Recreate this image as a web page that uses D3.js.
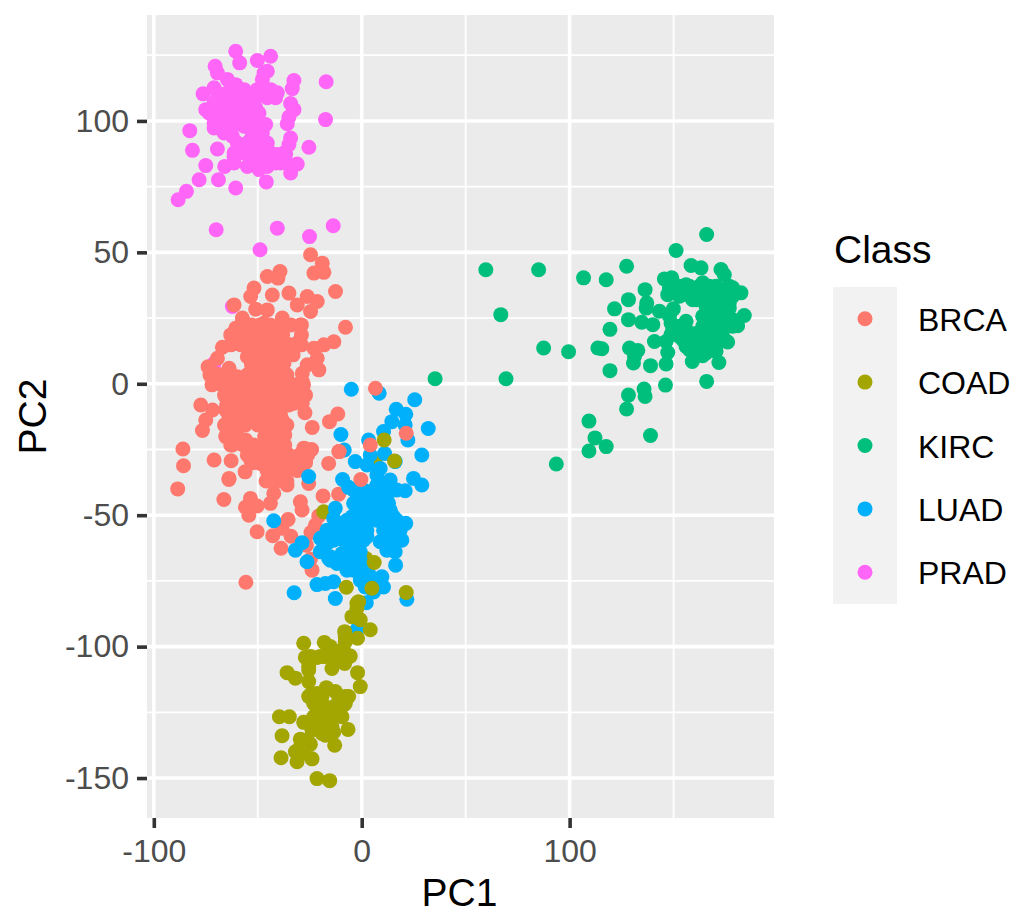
<!DOCTYPE html>
<html>
<head>
<meta charset="utf-8">
<script src="https://cdn.jsdelivr.net/npm/d3@7/dist/d3.min.js"></script>
<style>
  html, body { margin: 0; background: #fff; }
  text { font-family: "Liberation Sans", Arial, sans-serif; }
</style>
</head>
<body>
<div id="chart-area"></div>
<script>
var classes = ['BRCA', 'COAD', 'KIRC', 'LUAD', 'PRAD']
var classColors = ['#FF786E', '#A3A500', '#00BF7D', '#00B0FA', '#FF66F7']
var xMajorTicks = [-100, 0, 100]
var xMinorTicks = [-50, 50, 150]
var yMajorTicks = [-150, -100, -50, 0, 50, 100]
var yMinorTicks = [-125, -75, -25, 25, 75, 125]

var prad = [
  [-60.6, 126.5], [-58.7, 122.1], [-50.2, 123], [-43.8, 124.6], [-70.5, 120.8], [-69.4, 118.3], [-47, 118.3],
  [-47.8, 115.8], [-32.6, 115.4], [-33.4, 112.3], [-17.1, 114.9], [-17.4, 100.5], [-64.6, 115.8], [-60.6, 113.8],
  [-71, 112.6], [-76.3, 110.3], [-75, 104.3], [-67.8, 109.4], [-61.4, 110.7], [-53.4, 109.4], [-43.8, 111.9],
  [-41.4, 108.8], [-45.4, 108.8], [-34.2, 106.6], [-32.6, 104.3], [-35, 101.5], [-35.8, 98.9], [-34.2, 93.5],
  [-35, 91], [-25.4, 90], [-82.7, 96.3], [-81.4, 88.8], [-69.4, 89.3], [-71, 97.3], [-67, 101.8], [-63, 103],
  [-56.6, 104.3], [-51, 105], [-68.6, 106.2], [-63, 96.7], [-59.8, 91.6], [-61.4, 86.5], [-65.9, 82.7], [-75, 83],
  [-78.2, 77.6], [-68.9, 77.6], [-84.3, 73.2], [-88.3, 70], [-60.6, 74.5], [-45.9, 76.8], [-55, 82.7], [-49.4, 81.5],
  [-45.4, 82.7], [-41.4, 84], [-34.2, 80.2], [-31, 83.6], [-36.6, 87.2], [-45.4, 91.6], [-46.2, 98.6], [-53.4, 96.7],
  [-56.6, 89.7], [-50.2, 87.8], [-48.6, 94.2], [-70, 58.6], [-40.6, 59.2], [-25.1, 56], [-13.7, 60.1], [-48.9, 51],
  [-62.2, 29.4], [-71, 7.8],
  [-66.2, 109.4], [-61.4, 106.9], [-56.6, 109.4], [-51.8, 107.5], [-55, 102.4], [-47, 112.6], [-50.2, 111.9],
  [-71, 103], [-66.2, 98.6], [-69.4, 99.2], [-61.4, 99.2], [-62.2, 94.2], [-56.6, 98], [-51.8, 101.8], [-65.4, 103],
  [-53.4, 92.9], [-49.4, 91], [-43.8, 87.8], [-46.2, 89.1], [-53.4, 87.2], [-59, 87.8], [-50.2, 84.6], [-47, 85.9],
  [-40.6, 87.2], [-35.8, 84], [-39.8, 85.9], [-56.6, 111.9], [-45.4, 118.9],
  [-69.4, 110.7], [-64.6, 110.7], [-59.8, 110.7], [-55, 110.7], [-50.2, 110.7], [-45.4, 110.7], [-40.6, 110.7],
  [-71, 106.9], [-66.2, 106.9], [-56.6, 106.9], [-51.8, 106.9],
  [-73.4, 103], [-68.6, 103], [-59, 103], [-54.2, 103], [-49.4, 103],
  [-71, 99.2], [-66.2, 99.2], [-51.8, 99.2], [-52.6, 95.4], [-47.8, 95.4], [-66.2, 95.4],
  [-55, 91.6], [-50.2, 91.6], [-61.4, 87.8], [-56.6, 87.8], [-45.4, 87.8], [-37.4, 87.8],
  [-61.4, 84], [-53.4, 84], [-48.6, 84], [-43.8, 84], [-39, 84]
]

var brca = [
  [-24.6, 49.1], [-19, 45.9], [-23, 42.1], [-18.2, 42.4], [-39.3, 42.7], [-45.4, 40.8], [-40.3, 40.2], [-51.8, 36.4],
  [-53.4, 33.2], [-43, 33.8], [-35, 34.5], [-26.2, 33.2], [-21.4, 31.3], [-12.6, 35.1], [-61.4, 30], [-51, 28.4],
  [-45.4, 28.1], [-31, 30], [-24.6, 27.5], [-7.8, 21.5], [-57.4, 25], [-60.6, 21.1], [-53.4, 20.5], [-38.2, 25],
  [-29.4, 22.4], [-47, 23], [-13.4, 16], [-18.2, 14.8], [-23, 13.5], [-30.2, 16], [-67, 13.9], [-59.8, 15.4],
  [-48.6, 16.7], [-40.6, 15.4], [-21.4, 9.7], [-20.6, 5.3], [-26.2, 7.2], [-69.4, 9.7], [-73.9, 6.5], [-71, 4],
  [-63.8, 5.9], [-55, 10.3], [-47, 10.3], [-37.4, 7.8], [-70.2, 0.8], [-59.8, 2.7], [-50.2, 4], [-40.6, 2.7],
  [-28.6, 4], [-28.6, 0.8], [-65.4, -4.9], [-56.6, -2.4], [-47, -2.4], [-37.4, -1.1], [-32.6, -7.4], [-28.6, -7.4],
  [-27.3, -11], [-77.4, -8.1], [-71.8, -10], [-75, -13.8], [-76.6, -17.8], [-65.4, -10], [-56.6, -8.7], [-47, -8.7],
  [-40.6, -7.4], [-65.4, -16.3], [-65.4, -20.1], [-62.2, -23.3], [-59, -14.4], [-51.8, -13.8], [-45.4, -13.8],
  [-38.2, -13.8], [-37.9, -18.2], [-38.2, -22.7], [-46.7, -20.1], [-55.8, -21.4], [-50.2, -25.2], [-43.8, -26.5],
  [-53.4, -29], [-45.4, -30.3], [-37.4, -29], [-27.5, -24.6], [-24.1, -25], [-31, -29], [-34.2, -31.6],
  [-23.8, -16.6], [-15.5, -14.4], [-11.5, -11.5], [-86, -24.8], [-85.7, -31.2], [-71, -29], [-62.8, -29.3],
  [-56.1, -33.5], [-63.8, -36], [-11, -25.8], [-15.9, -30.3], [-27.9, -24.5], [-24.7, -25.2], [-63.9, -36.4],
  [-66.3, -44], [-43.9, -36.6], [-35.9, -38.5], [-30.3, -32.8], [-32.7, -29], [-48.7, -30.3], [-40.7, -29],
  [-25.5, -37.9], [-42.3, -41.7], [-43.9, -45.5], [-53.5, -43.6], [-55.9, -47], [-50.3, -46.5], [-54.3, -50],
  [-29.5, -44.9], [-28.7, -48], [-18.6, -42.7], [-11.1, -42], [-20.7, -50.3], [-22.3, -53.8], [-24.4, -56.6],
  [-35.4, -51.6], [-38.3, -55], [-42.8, -57.8], [-34, -58], [-50.3, -56.3], [-38.8, -62.6], [-26.6, -61.4],
  [-24.7, -66.8], [-23.9, -70.9], [-55.7, -75.5], [-8.7, -53.1], [-88.5, -40],
  [-58, 22.4], [-53, 22.4], [-49, 22.4], [-44, 22.4], [-39, 22.4], [-34, 22.4], [-29, 22.4],
  [-63, 18.6], [-56, 18.6], [-50, 18.6], [-44, 18.6], [-38, 18.6], [-29, 18.6],
  [-63, 14.8], [-58, 14.8], [-53, 14.8], [-48, 14.8], [-44, 14.8], [-39, 14.8], [-34, 14.8], [-29, 14.8],
  [-53, 11], [-48, 11], [-43, 11], [-38, 11], [-33, 11],
  [-53, 7.2], [-48, 7.2], [-43, 7.2], [-38, 7.2],
  [-73, 3.4], [-68, 3.4], [-63, 3.4], [-55, 3.4], [-50, 3.4], [-45, 3.4], [-40, 3.4], [-36, 3.4],
  [-72, -0.4], [-67, -0.4], [-62, -0.4], [-57, -0.4], [-52, -0.4], [-47, -0.4], [-42, -0.4], [-37, -0.4], [-32, -0.4], [-28, -0.4],
  [-66, -4.3], [-61, -4.3], [-56, -4.3], [-51, -4.3], [-46, -4.3], [-41, -4.3], [-36, -4.3], [-31, -4.3], [-27, -4.3],
  [-65, -8.1], [-60, -8.1], [-55, -8.1], [-50, -8.1], [-45, -8.1], [-40, -8.1], [-35, -8.1],
  [-64, -11.9], [-59, -11.9], [-54, -11.9], [-49, -11.9], [-44, -11.9], [-39, -11.9],
  [-66, -15.7], [-61, -15.7], [-56, -15.7], [-50, -15.7], [-45, -15.7], [-40, -15.7], [-36, -15.7],
  [-65, -19.5], [-60, -19.5], [-42, -19.5], [-37, -19.5],
  [-63, -23.3], [-57, -23.3], [-52, -23.3], [-47, -23.3], [-42, -23.3], [-37, -23.3],
  [-55, -27.1], [-50, -27.1], [-45, -27.1], [-40, -27.1], [-35, -27.1], [-30, -27.1], [-26, -27.1],
  [-52, -30], [-47, -30], [-42, -30], [-37, -30], [-32, -30], [-27, -30],
  [-45.5, -33], [-40.7, -33], [-35.9, -33], [-31.1, -33], [-46, -37], [-41, -37], [-36, -37]
]

var brcaTop = [
  [6.6, -1.7], [21.4, -18.8], [4.1, -23.3], [-10.8, -25.8], [-0.4, -36.4]
]

var coadUnder = [
  [6.5, -29.6], [-18.3, -48.7], [2, -66.5], [-2.3, -83.6]
]

var luad = [
  [-5, -2.1], [8.4, -3.6], [25.5, -6.1], [16.6, -9.7], [21.2, -11.6], [14.5, -14.4], [20.9, -15.7], [32, -17],
  [10.5, -18.2], [22.2, -21.4], [3.3, -21.4], [-10, -19.3], [-8.4, -25.2], [28.9, -27.1], [-3.1, -29.6], [4.1, -27.1],
  [11, -26.5], [16.1, -29.6], [8.9, -32.2], [2.5, -30.9], [-25.5, -35.3], [-9.2, -36.4], [24.9, -36], [28.9, -38.5],
  [20.9, -40.7], [13.7, -36.6], [-6.3, -39.4], [7.3, -38.5], [-1.5, -43], [4.1, -43], [10.5, -42.3], [0.9, -46.8],
  [7.3, -46.8], [13.7, -48.7], [-12.7, -47.4], [-13.5, -51.2], [-4.7, -50.6], [-42.3, -52.1], [21.2, -53.1],
  [2.5, -51.9], [10.5, -51.9], [15.3, -54.4], [19.3, -59.5], [8.9, -60.1], [13.7, -60.7], [16.1, -63.9], [16.3, -69],
  [-19.9, -58.8], [-15.1, -56.9], [-8.7, -55.7], [-2.3, -56.9], [2.5, -58.2], [-5.5, -60.7], [-28.7, -60.5],
  [-31.9, -63.3], [-19.9, -63.9], [-26.3, -67.7], [-15.9, -66.5], [-9.5, -64.6], [-3.9, -65.8], [-11.9, -68.4],
  [-3.9, -70.9], [3.3, -72.2], [9.7, -73.4], [10.5, -77.3], [1.7, -77.3], [5.7, -79.2], [-21.5, -76.4], [-17.5, -76],
  [-13.5, -75.3], [-12.7, -81.7], [-32.5, -79.5], [2.2, -83.3], [21.7, -82], [-2.3, -93.6],
  [7.3, -34.7], [12.1, -37.9], [16.9, -40.4], [-0.7, -41.1], [5.7, -41.1], [12.9, -45.5], [-3.9, -45.5], [4.1, -49.3],
  [-2.3, -50.6], [8.9, -50.6], [15.3, -50.6], [-11.9, -54.4], [-5.5, -54.4], [0.1, -55.7], [12.1, -56.9], [18.5, -55.7],
  [-16.7, -60.7], [-10.3, -58.8], [-3.9, -60.1], [0.9, -59.5], [12.1, -59.5], [-5.5, -63.9], [-0.7, -63.9], [-15.1, -65.8],
  [-7.9, -67.7], [-2.3, -69.6], [2.5, -74.7], [7.3, -76], [0.9, -70.9],
  [-3.9, -40.4], [0.9, -40.4], [5.7, -40.4], [10.5, -40.4], [15.3, -40.4],
  [-2.3, -44.2], [2.5, -44.2], [7.3, -44.2], [12.1, -44.2],
  [-0.7, -48], [4.1, -48], [8.9, -48], [13.7, -48],
  [-7.1, -51.9], [-2.3, -51.9], [7.3, -51.9], [12.1, -51.9], [16.9, -51.9],
  [-16.7, -55.7], [-11.9, -55.7], [-7.1, -55.7], [-2.3, -55.7], [2.5, -55.7], [10.5, -55.7], [15.3, -55.7],
  [-18.3, -59.5], [-13.5, -59.5], [-8.7, -59.5], [-3.9, -59.5], [10.5, -59.5], [15.3, -59.5],
  [-7.1, -63.3], [-2.3, -63.3], [12.1, -63.3], [15.3, -63.3],
  [-15.1, -67.1], [-10.3, -67.1], [-5.5, -67.1], [-0.7, -67.1],
  [-7.1, -70.9], [-2.3, -70.9], [2.5, -70.9], [-0.7, -74.7], [4.1, -74.7], [8.9, -74.7]
]

var coad = [
  [-7.4, -77.4], [4.9, -77.8], [-1.5, -82.9], [-2.3, -85.4], [-4.7, -88.6], [-0.7, -89.8], [4.1, -93.6], [-8.2, -94.3],
  [-2, -96.8], [-7.9, -98.1], [-27.9, -98.7], [-18, -98.4], [-15.1, -100], [-27.1, -104.1], [-21.5, -104.1],
  [-15.1, -103.2], [-9.5, -102.5], [-5.5, -103.6], [-8.2, -106.4], [-14.3, -108.3], [-25.5, -108.9], [-35.9, -109.9],
  [-31.9, -112], [-25.5, -113.3], [-2, -109.9], [-0.7, -115.2], [-17, -115.6], [-12.7, -117.1], [-24.7, -118.4],
  [-6.3, -119], [-19.9, -119.7], [-8.7, -122.2], [-22.3, -122.2], [-15.1, -123.5], [-11.1, -126], [-19.9, -126],
  [-39.6, -126.7], [-34.8, -126.7], [-27.9, -128.8], [-15.1, -129.2], [-6.6, -131.5], [-23.9, -131.8], [-13.5, -132.6],
  [-19.1, -133], [-38.3, -133.9], [-29.5, -135.2], [-24.7, -137.1], [-13, -137.5], [-31.9, -140], [-38.8, -142.3],
  [-23.9, -142.7], [-31.1, -143.8], [-21.5, -150.2], [-15.4, -151],
  [10.8, -21.4], [15.8, -29.4], [6, -68], [21.4, -79.4],
  [-21.5, -117.8], [-23.1, -121.6], [-19.1, -124.1], [-10.3, -122.9], [-15.9, -126.7], [-19.1, -129.2], [-15.1, -131.8],
  [-21.5, -130.5], [-17.5, -133.7], [-11.9, -125.4], [-7.9, -121.6], [-25.5, -119], [-25.5, -107.6], [-26.3, -135.6],
  [-29.5, -138.1], [-27.9, -140.6], [-8.7, -101.3], [-7.9, -96.2], [-11.9, -101.9], [-18.3, -103.8], [-2.3, -88.6],
  [-22.3, -119], [-19.1, -119], [-11.1, -119], [-7.9, -119], [-21.5, -122.9], [-17.5, -122.9], [-13.5, -122.9],
  [-23.1, -126.7], [-18.3, -126.7], [-13.5, -126.7], [-9.5, -126.7], [-22.3, -130.5], [-18.3, -130.5], [-14.3, -130.5],
  [-24.7, -103.8], [-19.9, -103.8], [-15.1, -103.8], [-10.3, -103.8], [-6.3, -103.8]
]

var kirc = [
  [165.9, 56.8], [151.2, 50.7], [59.7, 43.4], [85.1, 43.4], [106.7, 40.3], [117.6, 39.6], [127.4, 44.7], [158.4, 45],
  [163.2, 44.1], [172.8, 43.5], [174.4, 41.5], [145.6, 39.9], [149.1, 40.3], [136.3, 35.8], [148, 36.5], [147.2, 33.9],
  [156, 37.7], [154.4, 33.9], [159.2, 32], [164, 38.4], [170.4, 37.1], [178.4, 36.5], [182.4, 34.6], [167.2, 33.9],
  [173.6, 32], [176.8, 28.8], [128.3, 32], [137.1, 30.7], [121.6, 28.5], [143.2, 27.6], [136.8, 28.8], [149.9, 28.5],
  [184, 26], [168.8, 28.2], [164, 25.7], [172, 24.4], [180.8, 22.1], [175.2, 21.9], [66.9, 26.3], [128.3, 24.4],
  [134.7, 23.4], [140, 22.5], [148.8, 23.1], [156, 23.8], [166.4, 21.2], [119.4, 20.7], [154.4, 18.7], [148.8, 18.7],
  [140.8, 16.1], [146.4, 16.1], [156.8, 16.1], [164, 17.4], [170.4, 16.8], [176, 15.9], [87.5, 13.6], [99.5, 12.2],
  [113.6, 13.6], [115.5, 13.3], [128.8, 13.6], [132.8, 12.7], [147.2, 11.9], [160.8, 13.6], [166.4, 13.6], [170.4, 12.3],
  [131.2, 10.4], [164, 10.7], [130.7, 7.9], [138.9, 6.9], [146.4, 7.5], [159, 8.5], [171.8, 8.1], [119.4, 5], [69.4, 1.9],
  [165.9, 0.9], [146.1, -0.5], [135.8, -2], [136.3, -4.8], [128.3, -4.3], [127.4, -9.6], [109.3, -14.2], [112.2, -20.6],
  [117.6, -23.9], [109.3, -25.6], [138.9, -19.7], [93.6, -30.5], [35.3, 1.9],
  [172, 29], [168, 36], [162, 33], [172, 20], [160, 19], [152, 36],
  [167.2, 37.1], [173.6, 35.8], [178.4, 33.3], [164, 35.8], [170.4, 32], [176.8, 30.7], [167.2, 29.5], [173.6, 26.9],
  [178.4, 24.4], [167.2, 24.4], [172, 20.6], [157.6, 35.8], [160.8, 32], [152.8, 35.2], [156, 20.6], [152.8, 21.9],
  [160.8, 16.8], [157.6, 13], [164, 14.2], [154.4, 16.8], [167.2, 18], [173.6, 18], [148, 25.7],
  [152.8, 37.1], [157.6, 37.1], [162.4, 37.1], [176.8, 37.1], [152.8, 33.3], [164, 33.3], [168.8, 33.3], [173.6, 33.3],
  [165.6, 29.5], [170.4, 29.5], [175.2, 29.5], [168.8, 25.7], [173.6, 25.7], [164, 21.9], [168.8, 21.9], [173.6, 21.9],
  [178.4, 21.9], [152.8, 18], [157.6, 18], [162.4, 18], [156, 14.2], [160.8, 14.2], [165.6, 14.2], [170.4, 14.2],
  [160.8, 11.7], [165.6, 11.7], [149.6, 20.6], [154.4, 20.6]
]

// drawing order follows the overlaps in the plot, colour index into classColors
var layers = [
  { points: prad, color: 4 },
  { points: brca, color: 0 },
  { points: coadUnder, color: 1 },
  { points: luad, color: 3 },
  { points: coad, color: 1 },
  { points: brcaTop, color: 0 },
  { points: kirc, color: 2 }
]

var width = 1015
var height = 910
var panel = { left: 147, right: 774, top: 15, bottom: 818 }
var POINT_RADIUS = 7.5

var x = d3.scaleLinear().domain([-103.27, 198.3]).range([panel.left, panel.right])
var y = d3.scaleLinear().domain([-165.2, 140.3]).range([panel.bottom, panel.top])

var svg = d3.select('#chart-area')
  .append('svg')
  .attr('width', width)
  .attr('height', height)
  .attr('viewBox', '0 0 ' + width + ' ' + height)
  .style('display', 'block')

svg.append('rect')
  .attr('x', panel.left)
  .attr('y', panel.top)
  .attr('width', panel.right - panel.left)
  .attr('height', panel.bottom - panel.top)
  .attr('fill', '#EBEBEB')

function drawGrid (xTicks, yTicks, strokeWidth) {
  svg.append('g').selectAll('line')
    .data(xTicks)
    .enter().append('line')
    .attr('x1', function (d) { return x(d) })
    .attr('x2', function (d) { return x(d) })
    .attr('y1', panel.top)
    .attr('y2', panel.bottom)
    .attr('stroke', '#fff')
    .attr('stroke-width', strokeWidth)
  svg.append('g').selectAll('line')
    .data(yTicks)
    .enter().append('line')
    .attr('x1', panel.left)
    .attr('x2', panel.right)
    .attr('y1', function (d) { return y(d) })
    .attr('y2', function (d) { return y(d) })
    .attr('stroke', '#fff')
    .attr('stroke-width', strokeWidth)
}

drawGrid(xMinorTicks, yMinorTicks, 1.8)
drawGrid(xMajorTicks, yMajorTicks, 3.6)

layers.forEach(function (layer) {
  svg.append('g').selectAll('circle')
    .data(layer.points)
    .enter().append('circle')
    .attr('cx', function (d) { return x(d[0]) })
    .attr('cy', function (d) { return y(d[1]) })
    .attr('r', POINT_RADIUS)
    .attr('fill', classColors[layer.color])
})

function styleAxis (g) {
  g.select('.domain').remove()
  g.selectAll('.tick line').attr('stroke', '#333').attr('stroke-width', 3.6)
  g.selectAll('.tick text')
    .attr('fill', '#4D4D4D')
    .style('font-family', '"Liberation Sans", Arial, sans-serif')
    .style('font-size', '32px')
}

svg.append('g')
  .attr('transform', 'translate(0,' + panel.bottom + ')')
  .call(d3.axisBottom(x).tickValues(xMajorTicks).tickSize(10).tickPadding(11).tickFormat(d3.format('d')))
  .call(styleAxis)

svg.append('g')
  .attr('transform', 'translate(' + panel.left + ',0)')
  .call(d3.axisLeft(y).tickValues(yMajorTicks).tickSize(10).tickPadding(8).tickFormat(d3.format('d')))
  .call(styleAxis)

// plain hyphen on the negative labels, as in the plot
svg.selectAll('.tick text').text(function (d) { return String(d) })

svg.append('text')
  .attr('x', 459.5)
  .attr('y', 906)
  .attr('text-anchor', 'middle')
  .attr('font-size', 39)
  .text('PC1')

svg.append('text')
  .attr('transform', 'translate(46,' + (panel.top + panel.bottom) / 2 + ') rotate(-90)')
  .attr('text-anchor', 'middle')
  .attr('font-size', 39)
  .text('PC2')

// legend
svg.append('text')
  .attr('x', 834)
  .attr('y', 263)
  .attr('font-size', 39)
  .text('Class')

var legendKey = d3.scaleBand().domain(classes).range([287, 604])

svg.append('rect')
  .attr('x', 833)
  .attr('y', legendKey.range()[0])
  .attr('width', 64)
  .attr('height', legendKey.range()[1] - legendKey.range()[0])
  .attr('fill', '#F2F2F2')

var legendRow = svg.append('g').selectAll('g')
  .data(classes)
  .enter().append('g')
  .attr('transform', function (d) {
    return 'translate(0,' + (legendKey(d) + legendKey.bandwidth() / 2) + ')'
  })

legendRow.append('circle')
  .attr('cx', 865)
  .attr('r', POINT_RADIUS)
  .attr('fill', function (d, i) { return classColors[i] })

legendRow.append('text')
  .attr('x', 918)
  .attr('y', 12)
  .attr('font-size', 32)
  .text(function (d) { return d })
</script>
</body>
</html>
